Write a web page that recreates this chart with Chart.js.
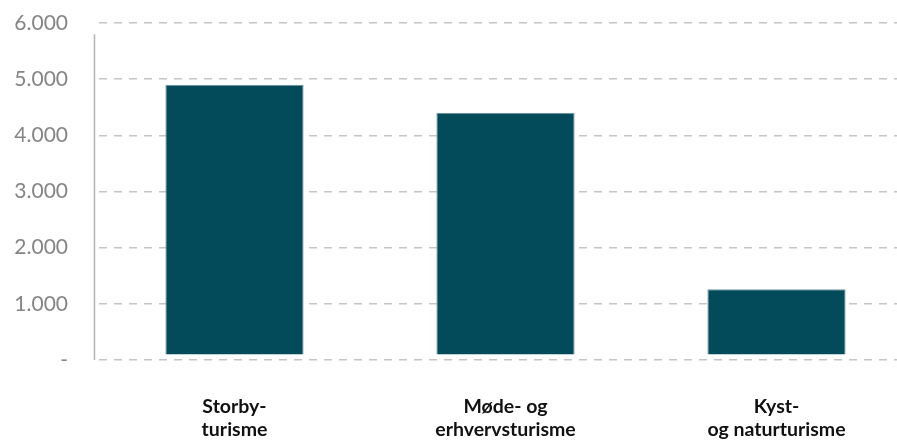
<!DOCTYPE html>
<html>
<head>
<meta charset="utf-8">
<script src="https://cdn.jsdelivr.net/npm/chart.js@4"></script>
<style>
    html, body { margin: 0; padding: 0; background: #fff; overflow: hidden; }
    #wrap { width: 912px; height: 441px; }
</style>
</head>
<body>
<div id="wrap"><canvas id="tourismChart"></canvas></div>
<script>
// Kategorier og værdier
const categories = [['Storby-', 'turisme'], ['Møde- og', 'erhvervsturisme'], ['Kyst-', 'og naturturisme']];
const values = [4900, 4400, 1260];
const barBase = 100;
const yTicks = [0, 1000, 2000, 3000, 4000, 5000, 6000];

function formatTick(v) {
    if (v === 0) return '-';
    return String(v).replace(/\B(?=(\d{3})+(?!\d))/g, '.');
}

// y-aksens linje starter lidt under den øverste gitterlinje
const axisLine = {
    id: 'axisLine',
    beforeDatasetsDraw(chart) {
        const { ctx, chartArea, scales } = chart;
        ctx.save();
        ctx.strokeStyle = '#b3b3b3';
        ctx.lineWidth = 1.5;
        ctx.beginPath();
        ctx.moveTo(chartArea.left - 4.5, scales.y.getPixelForValue(5800));
        ctx.lineTo(chartArea.left - 4.5, scales.y.getPixelForValue(0));
        ctx.stroke();
        ctx.restore();
    }
};

const ctx = document.getElementById('tourismChart').getContext('2d');
new Chart(ctx, {
    type: 'bar',
    data: {
        labels: categories,
        datasets: [{
            data: values,
            base: barBase,
            backgroundColor: '#034a5a',
            borderColor: '#6d96a0',
            borderWidth: 1,
            barPercentage: 0.51,
            categoryPercentage: 1
        }]
    },
    options: {
        responsive: true,
        maintainAspectRatio: false,
        animation: false,
        layout: { padding: { top: 23, left: 0, right: 0, bottom: 0 } },
        plugins: {
            legend: { display: false },
            tooltip: { enabled: false }
        },
        scales: {
            x: {
                grid: { display: false },
                border: { display: false },
                ticks: {
                    color: '#111',
                    font: { family: 'Lato', size: 19.5, weight: 'bold', lineHeight: 1.2 },
                    padding: 27,
                    maxRotation: 0
                },
                afterFit(scale) { scale.height = 81; }
            },
            y: {
                min: 0,
                max: 6000,
                afterBuildTicks(scale) {
                    scale.ticks = yTicks.map(v => ({ value: v }));
                },
                grid: {
                    color: '#c4c4c4',
                    lineWidth: 1.5,
                    drawTicks: false
                },
                border: { display: false, dash: [8, 7] },
                ticks: {
                    color: '#858585',
                    font: { family: 'Lato', size: 21 },
                    padding: 31,
                    callback: formatTick
                },
                afterFit(scale) {
                    scale.width = 99;
                    scale.paddingTop = 0;
                    scale.paddingBottom = 0;
                }
            }
        }
    },
    plugins: [axisLine]
});
</script>
</body>
</html>
